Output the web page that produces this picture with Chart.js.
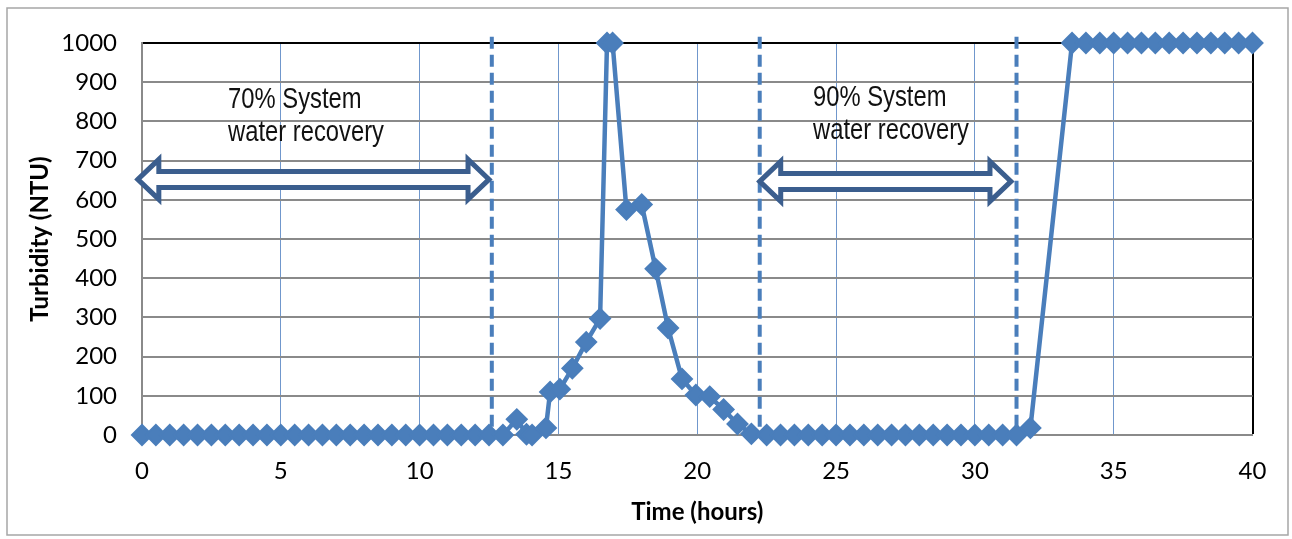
<!DOCTYPE html>
<html>
<head>
<meta charset="utf-8">
<script src="https://cdn.jsdelivr.net/npm/chart.js@4.4.0/dist/chart.umd.min.js"></script>
<style>
  html, body { margin: 0; padding: 0; background: #fff; }
  #wrap { width: 1292px; height: 539px; position: relative; }
</style>
</head>
<body>
<div id="wrap"><canvas id="turbChart"></canvas></div>
<script>
// --- DATA ---
const timeHours = [
    0, 0.5, 1, 1.5, 2, 2.5, 3, 3.5, 4, 4.5, 5, 5.5, 6, 6.5, 7, 7.5, 8, 8.5, 9, 9.5,
    10, 10.5, 11, 11.5, 12, 12.5, 13,
    13.5, 13.85, 14.05, 14.55, 14.7, 15.05, 15.5, 16, 16.5, 16.75, 16.95,
    17.45, 18, 18.5, 18.95, 19.45, 19.95, 20.45, 20.95, 21.45, 21.95,
    22.5, 23, 23.5, 24, 24.5, 25, 25.5, 26, 26.5, 27, 27.5, 28, 28.5, 29, 29.5,
    30, 30.5, 31, 31.5, 32,
    33.5, 34, 34.5, 35, 35.5, 36, 36.5, 37, 37.5, 38, 38.5, 39, 39.5, 40
];
const turbidityNTU = [
    0, 0, 0, 0, 0, 0, 0, 0, 0, 0, 0, 0, 0, 0, 0, 0, 0, 0, 0, 0,
    0, 0, 0, 0, 0, 0, 0,
    40, 2, 0, 18, 110, 117, 170, 237, 297, 1000, 1000,
    575, 588, 424, 273, 143, 102, 98, 65, 28, 3,
    0, 0, 0, 0, 0, 0, 0, 0, 0, 0, 0, 0, 0, 0, 0,
    0, 0, 0, 0, 18,
    1000, 1000, 1000, 1000, 1000, 1000, 1000, 1000, 1000, 1000, 1000, 1000, 1000, 1000
];
const xTicks = [0, 5, 10, 15, 20, 25, 30, 35, 40];
const yTicks = [0, 100, 200, 300, 400, 500, 600, 700, 800, 900, 1000];

// phase markers (hours) and recovery annotations
const phaseBoundaries = [12.6, 22.25, 31.5];
const recoveryArrows = [
    { from: -0.15, to: 12.5, level: 652 },
    { from: 22.25, to: 31.3, level: 647 }
];
const recoveryLabels = [
    { x: 3.1, lines: ['70% System', 'water recovery'], top: 855 },
    { x: 24.17, lines: ['90% System', 'water recovery'], top: 860 }
];

const BLUE = '#4a7ebb';
const ARROW = '#3b5e8e';

// --- ANNOTATION PLUGIN ---
const annotations = {
    id: 'annotations',
    beforeDatasetsDraw(chart) {
        const { ctx, scales: { x, y } } = chart;
        ctx.save();
        // dashed phase lines
        ctx.strokeStyle = BLUE;
        ctx.lineWidth = 4;
        ctx.setLineDash([12, 6]);
        phaseBoundaries.forEach(h => {
            const px = x.getPixelForValue(h);
            ctx.beginPath();
            ctx.moveTo(px, y.getPixelForValue(1016));
            ctx.lineTo(px, y.getPixelForValue(0));
            ctx.stroke();
        });
        ctx.setLineDash([]);
        // double-headed block arrows
        recoveryArrows.forEach(a => drawArrow(ctx, x.getPixelForValue(a.from), x.getPixelForValue(a.to), y.getPixelForValue(a.level)));
        ctx.restore();
    },
    afterDraw(chart) {
        const { ctx, scales: { x, y } } = chart;
        ctx.save();
        ctx.fillStyle = '#111';
        ctx.font = '29px "Liberation Sans", Arial, sans-serif';
        ctx.textAlign = 'left';
        ctx.textBaseline = 'middle';
        recoveryLabels.forEach(l => {
            const px = x.getPixelForValue(l.x);
            const py = y.getPixelForValue(l.top);
            l.lines.forEach((t, i) => {
                // squeeze to mimic a narrow face
                ctx.save();
                ctx.translate(px, py + i * 33);
                ctx.scale(0.82, 1);
                ctx.fillText(t, 0, 0);
                ctx.restore();
            });
        });
        // outer frame
        ctx.strokeStyle = '#a6a6a6';
        ctx.lineWidth = 1.5;
        ctx.strokeRect(7, 8, 1281, 527);
        ctx.restore();
    }
};

function drawArrow(ctx, x0, x1, yc) {
    const head = 21, hh = 20, sh = 8;
    ctx.beginPath();
    ctx.moveTo(x0, yc);
    ctx.lineTo(x0 + head, yc - hh);
    ctx.lineTo(x0 + head, yc - sh);
    ctx.lineTo(x1 - head, yc - sh);
    ctx.lineTo(x1 - head, yc - hh);
    ctx.lineTo(x1, yc);
    ctx.lineTo(x1 - head, yc + hh);
    ctx.lineTo(x1 - head, yc + sh);
    ctx.lineTo(x0 + head, yc + sh);
    ctx.lineTo(x0 + head, yc + hh);
    ctx.closePath();
    ctx.fillStyle = '#fff';
    ctx.fill();
    ctx.strokeStyle = ARROW;
    ctx.lineWidth = 5;
    ctx.lineJoin = 'miter';
    ctx.stroke();
}

// --- CHART ---
const tickFont = { family: 'Lato, "Open Sans", sans-serif', size: 24 };
const titleFont = { family: 'Lato, "Open Sans", sans-serif', size: 24, weight: 'bold' };

new Chart(document.getElementById('turbChart'), {
    type: 'line',
    data: {
        datasets: [{
            data: timeHours.map((t, i) => ({ x: t, y: turbidityNTU[i] })),
            borderColor: BLUE,
            backgroundColor: BLUE,
            borderWidth: 4.5,
            tension: 0,
            pointStyle: 'rectRot',
            pointRadius: 10,
            pointHoverRadius: 10,
            pointBorderWidth: 2,
            pointBorderColor: BLUE,
            clip: false
        }]
    },
    options: {
        responsive: true,
        maintainAspectRatio: false,
        animation: false,
        layout: { padding: { left: 0, top: 43, right: 39.5, bottom: 0 } },
        plugins: { legend: { display: false }, tooltip: { enabled: false } },
        scales: {
            x: {
                type: 'linear', min: 0, max: 40,
                afterBuildTicks: s => { s.ticks = xTicks.map(v => ({ value: v })); },
                afterFit: s => { s.height = 104; },
                ticks: { color: '#000', font: tickFont, padding: 22, maxRotation: 0, callback: v => String(v) },
                grid: {
                    drawTicks: false,
                    color: c => c.tick.value === 40 ? '#000' : '#7097cc',
                    lineWidth: c => c.tick.value === 40 ? 2 : 1
                },
                border: { color: '#8a8a8a', width: 2 },
                title: { display: true, text: 'Time (hours)', color: '#000', font: titleFont, padding: { bottom: 12 } }
            },
            y: {
                min: 0, max: 1000,
                afterBuildTicks: s => { s.ticks = yTicks.map(v => ({ value: v })); },
                afterFit: s => { s.width = 142; },
                ticks: { color: '#000', font: tickFont, padding: 25, callback: v => String(v) },
                grid: {
                    drawTicks: false,
                    color: c => c.tick.value === 1000 ? '#000' : '#8a8a8a',
                    lineWidth: 2
                },
                border: { color: '#8a8a8a', width: 2 },
                title: { display: true, text: 'Turbidity (NTU)', color: '#000', font: titleFont, padding: { top: 26 } }
            }
        }
    },
    plugins: [annotations]
});
</script>
</body>
</html>
